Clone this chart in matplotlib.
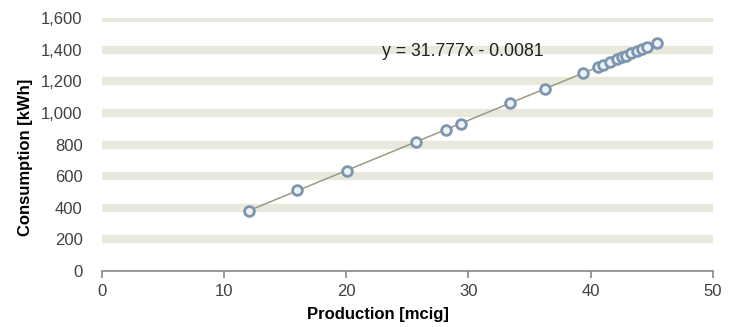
import numpy as np
import matplotlib
matplotlib.use('Agg')
import matplotlib.pyplot as plt

matplotlib.rcParams['font.family'] = ['Liberation Sans', 'DejaVu Sans']

# production [mcig] and consumption [kWh]
production = [12.0, 16.0, 20.1, 25.7, 28.2, 29.4, 33.4, 36.3, 39.4,
              40.6, 41.0, 41.6, 42.2, 42.6, 42.9, 43.3, 43.8, 44.2, 44.6, 45.4]
consumption = [380, 510, 635, 815, 893, 930, 1062, 1150, 1255,
               1290, 1300, 1320, 1340, 1355, 1362, 1378, 1392, 1405, 1418, 1445]
slope = 31.777
intercept = -0.0081
eq_label = 'y = 31.777x - 0.0081'
y_ticks = [0, 200, 400, 600, 800, 1000, 1200, 1400, 1600]
x_ticks = [0, 10, 20, 30, 40, 50]

fig = plt.figure(figsize=(7.31, 3.27), dpi=100)
ax = fig.add_axes([0.1395, 0.171, 0.8355, 0.774])

# thick pale bands instead of thin grid lines
for t in y_ticks[1:]:
    ax.axhline(t, color='#e8e8dc', linewidth=6, zorder=0)

xs = np.array([min(production), max(production)])
ax.plot(xs, slope * xs + intercept, color='#9c9a80', linewidth=1.1, zorder=2)
ax.plot(production, consumption, linestyle='none', marker='o', markersize=7,
        markerfacecolor='#eef1f4', markeredgecolor='#7b96ae', markeredgewidth=2, zorder=3)

ax.text(22.9, 1390, eq_label, fontsize=12.7, color='#202020', va='center', ha='left')

ax.set_xlim(0, 50)
ax.set_ylim(0, 1600)
ax.set_xticks(x_ticks)
ax.set_yticks(y_ticks)
ax.set_yticklabels(['{:,}'.format(v) for v in y_ticks])
ax.tick_params(axis='x', colors='#888888', labelcolor='#404040', labelsize=12, length=5, width=1.2, pad=4)
ax.tick_params(axis='y', length=0, labelcolor='#404040', labelsize=12, pad=14)

for s in ['top', 'right', 'left']:
    ax.spines[s].set_visible(False)
ax.spines['bottom'].set_color('#888888')
ax.spines['bottom'].set_linewidth(1.2)

ax.set_xlabel('Production [mcig]', fontsize=12, fontweight='bold')
ax.xaxis.set_label_coords(0.452, -0.14)
ax.set_ylabel('Consumption [kWh]', fontsize=12, fontweight='bold')
ax.yaxis.set_label_coords(-0.113, 0.45)

fig.savefig('out.png', dpi=100)
